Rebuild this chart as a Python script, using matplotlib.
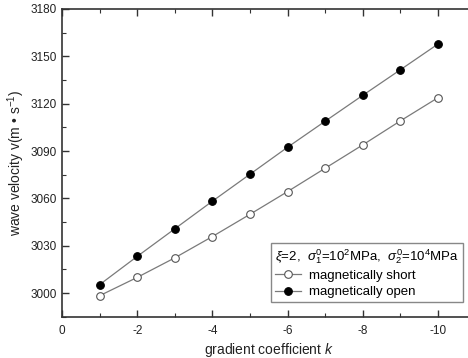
import numpy as np
import matplotlib.pyplot as plt
from matplotlib.ticker import MultipleLocator

plt.rcParams['font.family'] = ['Liberation Sans', 'DejaVu Sans']
plt.rcParams['mathtext.fontset'] = 'custom'
plt.rcParams['mathtext.rm'] = 'Liberation Sans'
plt.rcParams['mathtext.it'] = 'Liberation Sans:italic'

# gradient coefficient k
k = np.array([-1, -2, -3, -4, -5, -6, -7, -8, -9, -10])
# wave velocity (m/s)
v_short = np.array([2998.3, 3009.9, 3022.3, 3035.8, 3049.9, 3064.3, 3079.1, 3093.9, 3109.1, 3123.8])
v_open = np.array([3005.3, 3023.2, 3040.7, 3058.2, 3075.3, 3092.4, 3108.9, 3125.3, 3141.5, 3157.8])

fig = plt.figure(figsize=(4.68, 3.58), dpi=100)
ax = fig.add_axes([0.1325, 0.1154, 0.8838, 0.8595])

ax.plot(k, v_short, '-o', color='#7a7a7a', lw=0.9, ms=5.5,
        mfc='white', mec='#555555', mew=0.8, label='magnetically short')
ax.plot(k, v_open, '-o', color='#7a7a7a', lw=0.9, ms=5.5,
        mfc='black', mec='black', mew=0.8, label='magnetically open')

ax.set_xlim(0, -11)
ax.set_ylim(2985, 3180)
ax.xaxis.set_minor_locator(MultipleLocator(1))
ax.yaxis.set_major_locator(MultipleLocator(30))
ax.yaxis.set_minor_locator(MultipleLocator(15))
ax.set_xticks([0, -2, -4, -6, -8, -10])
ax.set_xticklabels(['0', '-2', '-4', '-6', '-8', '-10'])
ax.tick_params(which='both', direction='in', top=True, right=True,
               colors='#333333', labelcolor='#222222', labelsize=8.5)
ax.tick_params(which='major', length=5, width=1)
ax.tick_params(which='minor', length=3, width=0.8)
ax.tick_params(axis='x', pad=6)
for s in ax.spines.values():
    s.set_color('#333333')
    s.set_linewidth(1.2)

ax.set_xlabel('gradient coefficient $k$', fontsize=10, color='#222222', labelpad=3)
ax.set_ylabel('wave velocity v(m • s$^{-1}$)', fontsize=10, color='#222222', labelpad=3)

leg = ax.legend(title=r'$\xi$=2,  $\sigma_1^0$=10$^2$MPa,  $\sigma_2^0$=10$^4$MPa',
                loc='upper right', bbox_to_anchor=(0.989, 0.321),
                bbox_transform=fig.transFigure, borderaxespad=0,
                fontsize=9.5, title_fontsize=9.5, fancybox=False,
                edgecolor='#888888', framealpha=1, handlelength=2.0,
                handletextpad=0.6, labelspacing=0.3, borderpad=0.3)
leg._legend_box.align = 'left'
leg.get_frame().set_linewidth(1)

fig.savefig('out.png', dpi=100)
